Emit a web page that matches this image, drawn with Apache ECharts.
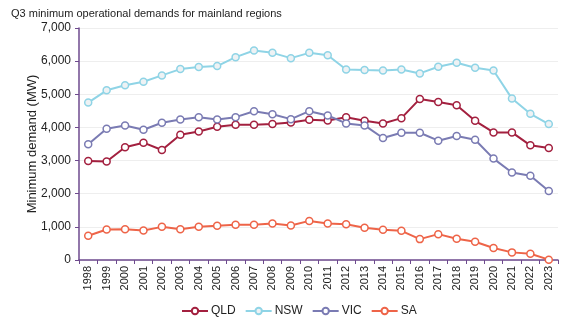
<!DOCTYPE html>
<html>
<head>
<meta charset="utf-8">
<script src="https://cdn.jsdelivr.net/npm/echarts@6/dist/echarts.min.js"></script>
<style>html,body{margin:0;padding:0;background:#fff}#c{width:573px;height:331px}</style>
</head>
<body>
<div id="c"></div>
<script>
const years = ['1998','1999','2000','2001','2002','2003','2004','2005','2006','2007','2008','2009','2010','2011','2012','2013','2014','2015','2016','2017','2018','2019','2020','2021','2022','2023'];
const qld = [2990,2970,3400,3540,3320,3780,3880,4020,4080,4080,4100,4150,4230,4210,4310,4200,4120,4280,4860,4770,4670,4200,3850,3850,3460,3380];
const nsw = [4750,5120,5270,5380,5570,5760,5820,5850,6120,6320,6250,6090,6250,6180,5750,5730,5720,5750,5630,5830,5950,5800,5720,4870,4410,4100];
const vic = [3490,3960,4060,3930,4140,4240,4310,4240,4310,4490,4400,4250,4490,4360,4120,4060,3680,3840,3840,3600,3740,3630,3060,2640,2540,2080];
const sa = [730,920,930,890,1000,930,1000,1030,1060,1060,1100,1040,1180,1100,1080,970,910,880,630,780,640,550,360,230,190,10];
const yTicks = {min:0, max:7000, interval:1000};

const colors = {QLD:'#A3203F', NSW:'#8FD4E6', VIC:'#7A7BB3', SA:'#EE6448'};
function mk(name, data, fill){
  return {name, type:'line', data, symbol:'circle', symbolSize:7,
    lineStyle:{color:colors[name], width:2},
    itemStyle:{color:fill, borderColor:colors[name], borderWidth:1.5},
    emphasis:{disabled:true}};
}
const chart = echarts.init(document.getElementById('c'));
chart.setOption({
  animation:false,
  color:[colors.QLD, colors.NSW, colors.VIC, colors.SA],
  title:{text:'Q3 minimum operational demands for mainland regions', left:6, top:3,
    textStyle:{fontSize:11, fontWeight:'normal', color:'#222', fontFamily:'Liberation Sans'}},
  grid:{left:79, right:15, top:28, bottom:71},
  legend:{bottom:9, left:176, itemWidth:26, itemHeight:8, itemGap:9,
    textStyle:{fontSize:12, color:'#222', fontFamily:'Liberation Sans', padding:[0,0,0,-2]},
    data:['QLD','NSW','VIC','SA']},
  xAxis:{type:'category', data:years, boundaryGap:true,
    axisLine:{lineStyle:{color:'#6E4A8E', width:1.5}},
    axisTick:{show:true, length:4, lineStyle:{color:'#6E4A8E'}},
    axisLabel:{rotate:90, fontSize:11, color:'#222', margin:6, fontFamily:'Liberation Sans'}},
  yAxis:{type:'value', min:yTicks.min, max:yTicks.max, interval:yTicks.interval,
    name:'Minimum demand (MW)', nameLocation:'middle', nameGap:40, nameMoveOverlap:false,
    nameTextStyle:{fontSize:13, color:'#222', fontFamily:'Liberation Sans'},
    axisLine:{show:true, lineStyle:{color:'#6E4A8E', width:1.5}},
    axisTick:{show:true, length:4, lineStyle:{color:'#6E4A8E'}},
    splitLine:{lineStyle:{color:'#eeeeee'}},
    axisLabel:{fontSize:12, color:'#222', margin:8, fontFamily:'Liberation Sans',
      formatter:v=>v.toLocaleString('en-US')}},
  series:[mk('QLD',qld,'#fff'), mk('NSW',nsw,'#eef2f4'), mk('VIC',vic,'#fff'), mk('SA',sa,'#fff')]
});
</script>
</body>
</html>
